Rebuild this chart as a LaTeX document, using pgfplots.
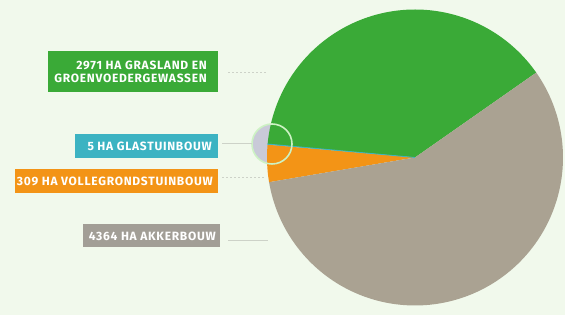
\documentclass[border=0pt]{standalone}
\usepackage{pgfplots}
\pgfplotsset{compat=1.18}
\usepackage{fontspec}
\setmainfont{Fira Sans}
\newfontfamily\lab[LetterSpace=6]{Fira Sans}
\definecolor{bg}{HTML}{F1F9EC}
\definecolor{cgreen}{HTML}{3AAA37}
\definecolor{ccyan}{HTML}{3CB3C2}
\definecolor{corange}{HTML}{F39416}
\definecolor{cgray}{HTML}{AAA292}
\definecolor{cgraybox}{HTML}{A29E96}
\definecolor{cline}{HTML}{CDD2C8}
\definecolor{clav}{HTML}{C9CAD8}
\definecolor{cring}{HTML}{CDF2C4}
% data (ha)
\def\vGras{2971}
\def\vGlas{5}
\def\vVolle{309}
\def\vAkker{4364}
\pgfmathsetmacro{\tot}{\vGras+\vGlas+\vVolle+\vAkker}
\pgfmathsetmacro{\aA}{35}
\pgfmathsetmacro{\aB}{\aA+360*(\vGras/\tot)}
\pgfmathsetmacro{\aC}{\aB+360*(\vGlas/\tot)}
\pgfmathsetmacro{\aD}{\aC+360*(\vVolle/\tot)}
\pgfmathsetmacro{\aE}{\aD+360*(\vAkker/\tot)}
\tikzset{lbl/.style={text=white, font=\lab\bfseries\fontsize{12}{14}\selectfont, inner sep=0pt}}
\begin{document}
\begin{tikzpicture}
\begin{axis}[scale only axis, width=565pt, height=315pt,
  xmin=0, xmax=565, ymin=0, ymax=315, hide axis, clip=false]
\fill[bg] (axis cs:0,0) rectangle (axis cs:565,315);
% small highlight circle background
\fill[clav] (axis cs:272,171) circle[radius=20pt];
% pie wedges
\addplot[draw=none, fill=cgreen, domain=\aA:\aB, samples=90, variable=\t]
  ({415+148*cos(\t)},{157.5+148*sin(\t)}) -- (axis cs:415,157.5) -- cycle;
\addplot[draw=none, fill=ccyan, domain=\aB:\aC, samples=2, variable=\t]
  ({415+148*cos(\t)},{157.5+148*sin(\t)}) -- (axis cs:415,157.5) -- cycle;
\addplot[draw=none, fill=corange, domain=\aC:\aD, samples=20, variable=\t]
  ({415+148*cos(\t)},{157.5+148*sin(\t)}) -- (axis cs:415,157.5) -- cycle;
\addplot[draw=none, fill=cgray, domain=\aD:\aE, samples=120, variable=\t]
  ({415+148*cos(\t)},{157.5+148*sin(\t)}) -- (axis cs:415,157.5) -- cycle;
\draw[ccyan, line width=0.8pt] (axis cs:415,157.5) -- (axis cs:267.5,171);
\draw[cring, line width=1.6pt] (axis cs:272,171) circle[radius=20pt];
% leader lines
\draw[cline, line width=0.8pt, dash pattern=on 2pt off 2pt] (axis cs:228,243) -- (axis cs:266,243);
\draw[cline, line width=0.8pt] (axis cs:222,172) -- (axis cs:252,172);
\draw[cline, line width=0.8pt, dash pattern=on 2pt off 2pt] (axis cs:222,138) -- (axis cs:264,138);
\draw[cline, line width=0.8pt] (axis cs:228,75) -- (axis cs:268,75);
% label boxes
\fill[cgreen] (axis cs:48,223) rectangle (axis cs:218,264);
\fill[ccyan] (axis cs:75,157) rectangle (axis cs:218,181);
\fill[corange] (axis cs:15,122) rectangle (axis cs:218,146);
\fill[cgraybox] (axis cs:83,68) rectangle (axis cs:220,91);
\node[lbl, anchor=east] at (axis cs:207,250) {2971 HA GRASLAND EN};
\node[lbl, anchor=east] at (axis cs:207,237) {GROENVOEDERGEWASSEN};
\node[lbl, anchor=east] at (axis cs:212,168.5) {5 HA GLASTUINBOUW};
\node[lbl, anchor=east] at (axis cs:213,134) {309 HA VOLLEGRONDSTUINBOUW};
\node[lbl, anchor=east] at (axis cs:216,79) {4364 HA AKKERBOUW};
\end{axis}
\end{tikzpicture}
\end{document}
